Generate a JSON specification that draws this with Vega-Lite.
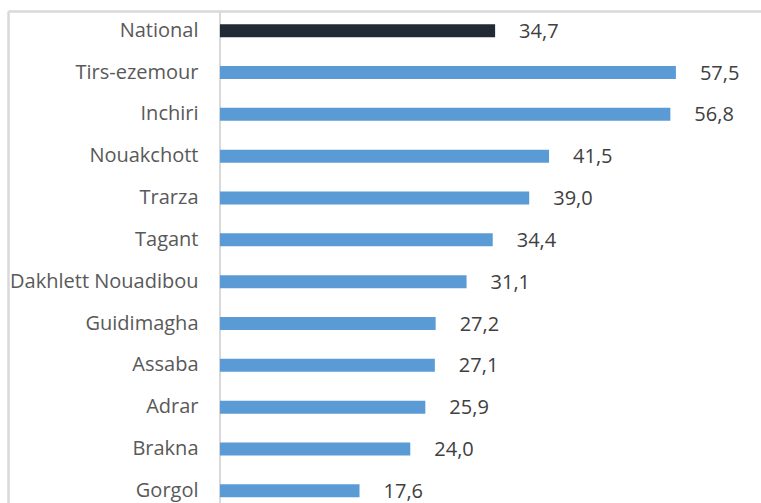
{
  "$schema": "https://vega.github.io/schema/vega-lite/v6.json",
  "width": 753,
  "height": 492,
  "autosize": "none",
  "padding": {"left": 8, "top": 11, "right": 0, "bottom": 0},
  "background": "white",
  "config": {
    "view": {"stroke": null},
    "font": "Open Sans",
    "locale": {"number": {"decimal": ",", "thousands": " ", "grouping": [3], "currency": ["", ""]}}
  },
  "data": {
    "values": [
      {"region": "National", "value": 34.7, "group": "national"},
      {"region": "Tirs-ezemour", "value": 57.5, "group": "region"},
      {"region": "Inchiri", "value": 56.8, "group": "region"},
      {"region": "Nouakchott", "value": 41.5, "group": "region"},
      {"region": "Trarza", "value": 39.0, "group": "region"},
      {"region": "Tagant", "value": 34.4, "group": "region"},
      {"region": "Dakhlett Nouadibou", "value": 31.1, "group": "region"},
      {"region": "Guidimagha", "value": 27.2, "group": "region"},
      {"region": "Assaba", "value": 27.1, "group": "region"},
      {"region": "Adrar", "value": 25.9, "group": "region"},
      {"region": "Brakna", "value": 24.0, "group": "region"},
      {"region": "Gorgol", "value": 17.6, "group": "region"}
    ]
  },
  "layer": [
    {
      "mark": {"type": "rule", "color": "#d9d9d9", "strokeWidth": 1.5},
      "encoding": {
        "x": {
          "datum": 0, "type": "quantitative",
          "scale": {"domain": [-26.73, 68.23], "nice": false, "zero": false},
          "axis": {"orient": "top", "title": null, "labels": false, "ticks": false, "grid": false,
                   "domainColor": "#d9d9d9", "domainWidth": 2.5}
        }
      }
    },
    {
      "mark": {"type": "bar"},
      "encoding": {
        "y": {
          "field": "region", "type": "nominal", "sort": null,
          "scale": {"paddingInner": 0.689, "paddingOuter": 0.2255, "align": 0.70, "round": false},
          "axis": {
            "title": null, "orient": "left", "ticks": false, "tickSize": 0,
            "labelPadding": -190, "labelFont": "Open Sans", "labelFontSize": 20,
            "labelColor": "#595959", "labelLimit": 400,
            "domainColor": "#d9d9d9", "domainWidth": 2.5
          }
        },
        "x": {
          "field": "value", "type": "quantitative",
          "scale": {"domain": [-26.73, 68.23], "nice": false, "zero": false},
          "axis": {"orient": "top", "title": null, "labels": false, "ticks": false, "grid": false,
                   "domainColor": "#d9d9d9", "domainWidth": 2.5}
        },
        "x2": {"datum": 0},
        "color": {
          "field": "group", "type": "nominal",
          "scale": {"domain": ["national", "region"], "range": ["#222a35", "#5b9bd5"]},
          "legend": null
        }
      }
    },
    {
      "mark": {"type": "text", "align": "left", "baseline": "middle", "dx": 24, "dy": 1,
               "font": "Open Sans", "fontSize": 20, "color": "#404040"},
      "encoding": {
        "y": {
          "field": "region", "type": "nominal", "sort": null,
          "scale": {"paddingInner": 0.689, "paddingOuter": 0.2255, "align": 0.70, "round": false},
          "axis": {
            "title": null, "orient": "left", "ticks": false, "tickSize": 0,
            "labelPadding": -190, "labelFont": "Open Sans", "labelFontSize": 20,
            "labelColor": "#595959", "labelLimit": 400,
            "domainColor": "#d9d9d9", "domainWidth": 2.5
          }
        },
        "x": {
          "field": "value", "type": "quantitative",
          "scale": {"domain": [-26.73, 68.23], "nice": false, "zero": false},
          "axis": {"orient": "top", "title": null, "labels": false, "ticks": false, "grid": false,
                   "domainColor": "#d9d9d9", "domainWidth": 2.5}
        },
        "text": {"field": "value", "type": "quantitative", "format": ".1f"}
      }
    }
  ]
}
